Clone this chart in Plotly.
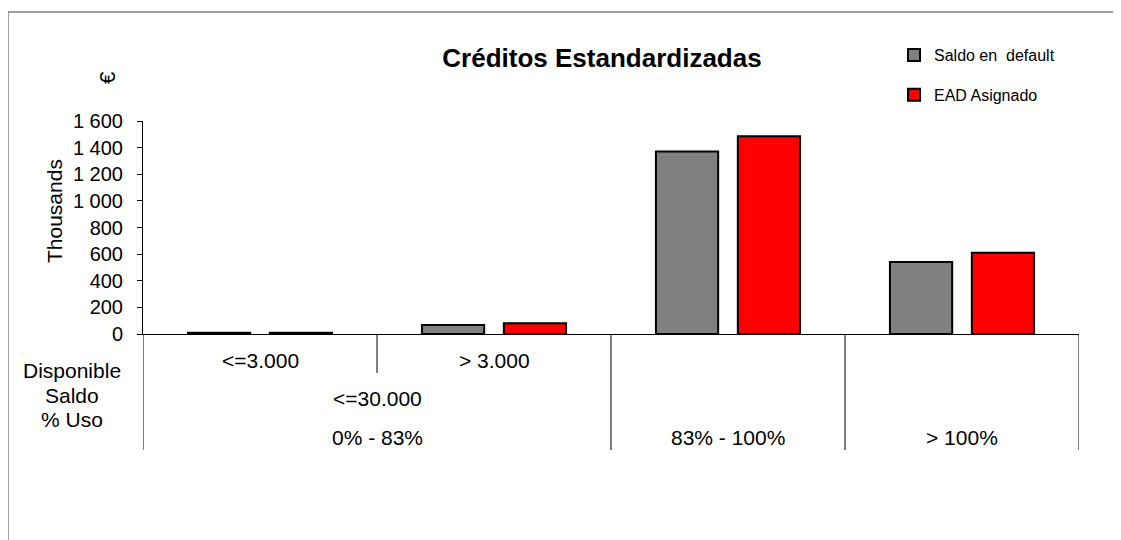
import plotly.graph_objects as go

# ---- data ----
series_names = ["Saldo en  default", "EAD Asignado"]
saldo_default = [10, 67, 1370, 540]      # thousands €
ead_asignado = [10, 80, 1485, 610]       # thousands €
bar_colors = ["#808080", "#FF0000"]

level1_labels = ["<=3.000", "> 3.000", "", ""]            # Disponible
level2_groups = [("<=30.000", 0, 1), ("", 2, 2), ("", 3, 3)]  # Saldo
level3_groups = [("0% - 83%", 0, 1), ("83% - 100%", 2, 2), ("> 100%", 3, 3)]  # % Uso
level_names = ["Disponible", "Saldo", "% Uso"]

title_text = "Créditos Estandardizadas"
y_title = "Thousands"
unit_label = "€"
y_ticks = [0, 200, 400, 600, 800, 1000, 1200, 1400, 1600]

# ---- layout geometry ----
OFF = 8  # page body margin
W, H = 1121, 540
# plot area in screen px: x 143..1079, y 121..334
L = 143 - OFF
T = 121 - OFF
PW = 1079 - 143
PH = 334 - 121
R = W - L - PW
B = H - T - PH
FONT = "Liberation Sans, Arial, sans-serif"
TXT = 21


def xp(sx):
    return (sx - 143) / PW


def yp(sy):
    return (334 - sy) / PH


n = len(level1_labels)
xs = list(range(n))

fig = go.Figure()
for name, vals, col in zip(series_names, [saldo_default, ead_asignado], bar_colors):
    fig.add_trace(go.Bar(
        x=xs, y=vals, name=name, legendgroup=name,
        marker=dict(color=col, line=dict(color="black", width=2)),
    ))

annotations = []
shapes = []

for i, lab in enumerate(level1_labels):
    if lab:
        annotations.append(dict(x=i, xref="x", y=yp(360), yref="paper", text=lab,
                                showarrow=False, font=dict(size=TXT, color="black"),
                                xanchor="center", yanchor="middle"))
for groups, sy in [(level2_groups, 398), (level3_groups, 437)]:
    for lab, a, b in groups:
        if lab:
            annotations.append(dict(x=(a + b) / 2, xref="x", y=yp(sy), yref="paper", text=lab,
                                    showarrow=False, font=dict(size=TXT, color="black"),
                                    xanchor="center", yanchor="middle"))

row_y = [yp(334), yp(373), yp(411), yp(450)]
for k in range(n + 1):
    shapes.append(dict(type="line", xref="x", yref="paper", x0=k - 0.5, x1=k - 0.5,
                       y0=row_y[0], y1=row_y[1], line=dict(color="black", width=1)))
bounds = sorted({a - 0.5 for _, a, _ in level3_groups} | {b + 0.5 for _, _, b in level3_groups})
for bx in bounds:
    shapes.append(dict(type="line", xref="x", yref="paper", x0=bx, x1=bx,
                       y0=row_y[1], y1=row_y[3], line=dict(color="black", width=1)))

for name, sy in zip(level_names, [370, 395, 419]):
    annotations.append(dict(x=xp(72), xref="paper", y=yp(sy), yref="paper", text=name,
                            showarrow=False, font=dict(size=TXT, color="black"),
                            xanchor="center", yanchor="middle"))

annotations.append(dict(x=xp(54), xref="paper", y=yp(211), yref="paper", text=y_title,
                        textangle=-90, showarrow=False, font=dict(size=TXT, color="black"),
                        xanchor="center", yanchor="middle"))
annotations.append(dict(x=xp(107), xref="paper", y=yp(78), yref="paper", text=unit_label,
                        textangle=-90, showarrow=False, font=dict(size=22, color="black"),
                        xanchor="center", yanchor="middle"))

# chart border (right & bottom edges outside the view)
shapes.append(dict(type="rect", xref="paper", yref="paper",
                   x0=xp(8), x1=xp(W + 40), y0=yp(12), y1=yp(H + 40),
                   line=dict(color="#808080", width=1.5), fillcolor="rgba(0,0,0,0)"))

fig.update_layout(
    width=W, height=H,
    margin=dict(l=L, r=R, t=T, b=B, pad=0),
    paper_bgcolor="white", plot_bgcolor="white",
    font=dict(family=FONT, color="black"),
    separators=". ",
    barmode="group", bargap=0.30, bargroupgap=0.24,
    title=dict(text="<b>" + title_text + "</b>", x=(602 - OFF) / W, xanchor="center",
               y=1 - (58 - OFF) / H, yanchor="middle", font=dict(size=26, color="black")),
    legend=dict(x=xp(894), xanchor="left", y=yp(38), yanchor="top",
                font=dict(size=16, color="black"), bgcolor="rgba(0,0,0,0)",
                traceorder="grouped", tracegroupgap=16, itemwidth=30),
    annotations=annotations,
    shapes=shapes,
    xaxis=dict(range=[-0.5, n - 0.5], showticklabels=False, ticks="", showgrid=False,
               showline=True, linecolor="black", linewidth=1, zeroline=False, fixedrange=True),
    yaxis=dict(range=[0, 1600], tickvals=y_ticks, tickformat=",d", ticks="outside", ticklen=5,
               tickcolor="black", showline=True, linecolor="black", linewidth=1,
               showgrid=False, zeroline=False, tickfont=dict(size=20, color="black"),
               ticklabelstandoff=10),
)

fig.write_html("out.html")
